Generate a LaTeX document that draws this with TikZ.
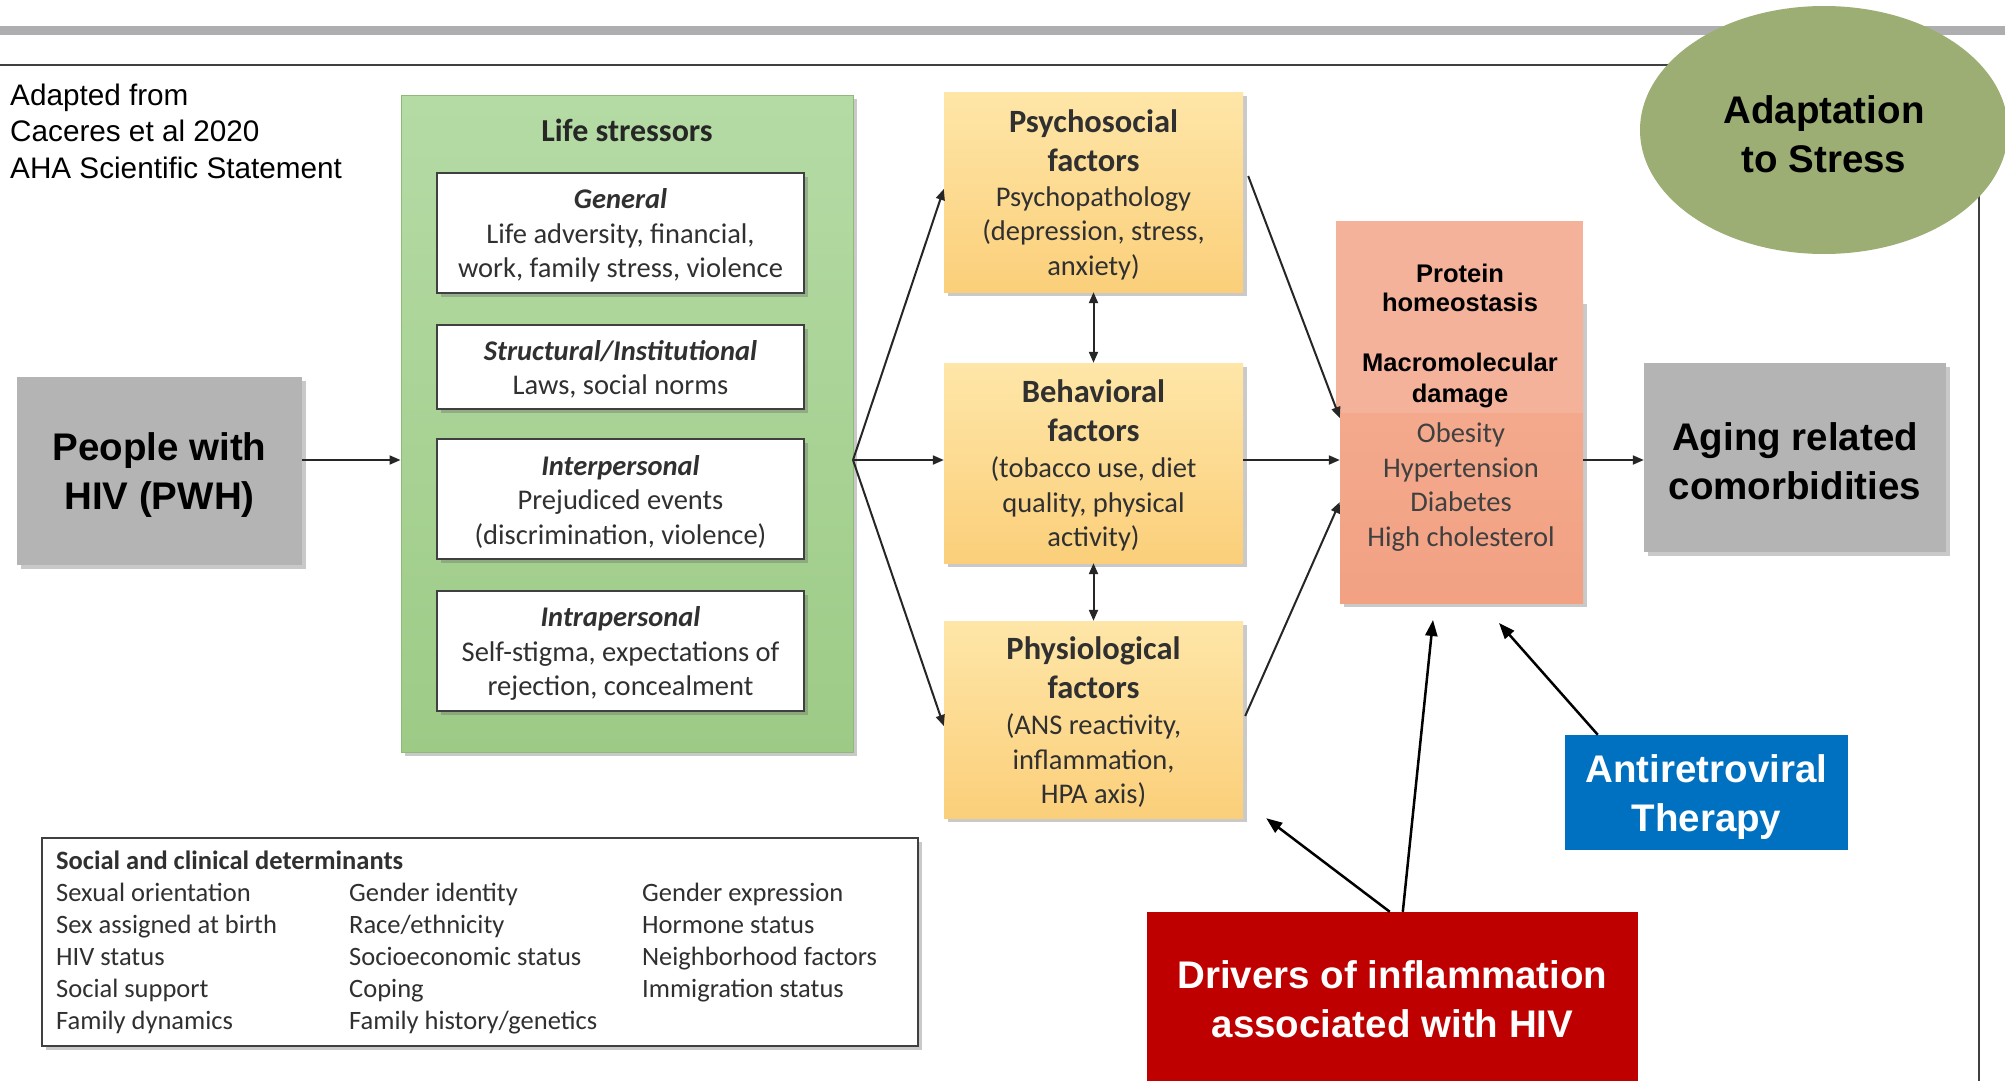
\documentclass[tikz,border=0pt]{standalone}
\usepackage{fontspec}
\setmainfont{Liberation Sans}
\newfontfamily\calib{Carlito}
\usetikzlibrary{shadows,arrows.meta,shapes.geometric}
\definecolor{bandc}{HTML}{AEAEB0}
\definecolor{framec}{HTML}{404040}
\definecolor{grayc}{HTML}{B4B4B4}
\definecolor{greent}{HTML}{B5DBA5}
\definecolor{greenb}{HTML}{9DCB86}
\definecolor{greenl}{HTML}{8DBA78}
\definecolor{yelt}{HTML}{FEE6A8}
\definecolor{yelb}{HTML}{FBCF7A}
\definecolor{pinkt}{HTML}{F5AE92}
\definecolor{pinkb}{HTML}{F2A183}
\definecolor{pinku}{HTML}{F4B29B}
\definecolor{olive}{HTML}{9CAE74}
\definecolor{bluec}{HTML}{0070C0}
\definecolor{redc}{HTML}{BE0000}
\definecolor{txt}{HTML}{303030}
\tikzset{
  shad/.style={drop shadow={shadow xshift=4pt,shadow yshift=-4pt,opacity=0.35,fill=black!60}},
  boldtxt/.style={align=center, inner sep=0pt, font=\bfseries\fontsize{38.5}{48.5}\selectfont},
  graybox/.style={fill=grayc, boldtxt},
  greenbox/.style={top color=greent, bottom color=greenb, draw=greenl, line width=1pt, shad},
  whitebox/.style={fill=white, draw=framec, line width=2pt, shad, minimum width=367pt, inner sep=0pt},
  wtext/.style={align=center, inner sep=0pt, text=txt, font=\calib\fontsize{28.5}{34.5}\selectfont},
  yelbox/.style={top color=yelt, bottom color=yelb, shad, minimum width=299pt, inner sep=0pt},
  ytitle/.style={align=center, inner sep=0pt, text=txt, font=\calib\bfseries\fontsize{32.5}{39}\selectfont},
  ybody/.style={align=center, inner sep=0pt, text=txt, font=\calib\fontsize{28.5}{34.5}\selectfont},
  arr/.style={-{Triangle[length=11pt,width=9pt]}, line width=2pt, draw=black!85},
  darr/.style={{Triangle[length=11pt,width=9pt]}-{Triangle[length=11pt,width=9pt]}, line width=2pt, draw=black!85},
  bigarr/.style={-{Triangle[length=16pt,width=12pt]}, line width=2.5pt, draw=black}
}
\begin{document}
\begin{tikzpicture}[x=1pt,y=-1pt]
\useasboundingbox (0,0) rectangle (2005,1081);
\fill[white] (0,0) rectangle (2005,1081);
% top band and frame
\fill[bandc] (0,26) rectangle (2005,35);
\draw[framec, line width=2pt] (0,65) -- (1979,65) -- (1979,1081);

% source note
\node[anchor=west, align=left, inner sep=0pt, font=\fontsize{29.7}{36.5}\selectfont] (note) at (10,131)
  {Adapted from\\Caceres et al 2020\\AHA Scientific Statement};

% adaptation ellipse
\node[ellipse, fill=olive, minimum width=368pt, minimum height=248pt, inner sep=0pt] (adapt) at (1824,130) {};
\node[boldtxt] (adaptt) at (1824,134) {Adaptation\\to Stress};

% PWH
\node[fill=grayc, shad, minimum width=285pt, minimum height=188pt, inner sep=0pt] (pwh) at (159.5,471) {};
\node[boldtxt] (pwht) at (159.5,475) {People with\\HIV (PWH)};

% green life stressors
\node[greenbox, minimum width=452pt, minimum height=657pt, inner sep=0pt] (green) at (627,423.5) {};
\node[inner sep=0pt, text=black!85, font=\calib\bfseries\fontsize{32}{38}\selectfont] (lstit) at (627,130) {Life stressors};
\node[whitebox, minimum height=120pt] (gen) at (620.5,233) {};
\node[wtext] (gent) at (620.5,235.5) {{\bfseries\itshape General}\\Life adversity, financial,\\work, family stress, violence};
\node[whitebox, minimum height=84pt] (struc) at (620.5,367) {};
\node[wtext] (struct) at (620.5,369.5) {{\bfseries\itshape Structural/Institutional}\\Laws, social norms};
\node[whitebox, minimum height=120pt] (inter) at (620.5,499) {};
\node[wtext] (intert) at (620.5,501.5) {{\bfseries\itshape Interpersonal}\\Prejudiced events\\(discrimination, violence)};
\node[whitebox, minimum height=120pt] (intra) at (620.5,651) {};
\node[wtext] (intrat) at (620.5,653.5) {{\bfseries\itshape Intrapersonal}\\Self-stigma, expectations of\\rejection, concealment};

% yellow factor boxes
\node[yelbox, minimum height=200pt] (psy) at (1093.5,192) {};
\node[ytitle] (psyt) at (1093.5,141) {Psychosocial\\factors};
\node[ybody] (psyb) at (1093.5,233) {Psychopathology\\(depression, stress,\\anxiety)};
\node[yelbox, minimum height=200pt] (beh) at (1093.5,463) {};
\node[ytitle] (beht) at (1093.5,411) {Behavioral\\factors};
\node[ybody] (behb) at (1093.5,504) {(tobacco use, diet\\quality, physical\\activity)};
\node[yelbox, minimum height=197pt] (phy) at (1093.5,719.5) {};
\node[ytitle] (phyt) at (1093.5,668) {Physiological\\factors};
\node[ybody] (phyb) at (1093.5,761) {(ANS reactivity,\\inflammation,\\HPA axis)};

% pink boxes
\node[top color=pinkt, bottom color=pinkb, shad, minimum width=243pt, minimum height=303pt, inner sep=0pt] (pinkl) at (1461.5,451.5) {};
\node[fill=pinku, minimum width=247pt, minimum height=192pt, inner sep=0pt] (pinkup) at (1459.5,317) {};
\node[align=center, inner sep=0pt, font=\bfseries\fontsize{25.5}{29.5}\selectfont] (prot) at (1460,288) {Protein\\homeostasis};
\node[align=center, inner sep=0pt, font=\bfseries\fontsize{25.5}{31}\selectfont] (macro) at (1460,380) {Macromolecular\\damage};
\node[ybody, text=black!75] (dis) at (1461,487) {Obesity\\Hypertension\\Diabetes\\High cholesterol};

% aging box
\node[fill=grayc, shad, minimum width=302pt, minimum height=189pt, inner sep=0pt] (aging) at (1795,457.5) {};
\node[boldtxt] (agingt) at (1795,461) {Aging related\\comorbidities};

% ART and drivers
\node[fill=bluec, minimum width=283pt, minimum height=115pt, inner sep=0pt] (art) at (1706.5,792.5) {};
\node[boldtxt, text=white] (artt) at (1706.5,797) {Antiretroviral\\Therapy};
\node[fill=redc, minimum width=491pt, minimum height=176pt, inner sep=0pt] (drv) at (1392.5,1000) {};
\node[boldtxt, text=white] (drvt) at (1392.5,999) {Drivers of inflammation\\associated with HIV};

% social and clinical determinants
\node[fill=white, draw=framec, line width=2pt, shad, minimum width=876pt, minimum height=208pt, inner sep=0pt] (soc) at (480,942) {};
\node[anchor=west, inner sep=0pt, text=txt, font=\calib\fontsize{26.5}{32}\selectfont] (soct) at (56,943.5) {%
\begin{tabular}{@{}p{281pt}p{281pt}l@{}}
\multicolumn{3}{@{}l}{\bfseries Social and clinical determinants}\\
Sexual orientation & Gender identity & Gender expression\\
Sex assigned at birth & Race/ethnicity & Hormone status\\
HIV status & Socioeconomic status & Neighborhood factors\\
Social support & Coping & Immigration status\\
Family dynamics & Family history/genetics & \\
\end{tabular}};

% connectors
\coordinate (hub) at (853,460);
\draw[arr] (pwh.east |- hub) -- (green.west |- hub);
\draw[arr] (hub) -- (psy.west |- 0,189);
\draw[arr] (hub) -- (beh.west |- hub);
\draw[arr] (hub) -- (phy.west |- 0,726);
\draw[darr] (psy.south) -- (beh.north);
\draw[darr] (beh.south) -- (phy.north);
\draw[arr] ([xshift=5pt]psy.east |- 0,176) -- (pinkl.west |- 0,418);
\draw[arr] (beh.east |- hub) -- (pinkl.west |- hub);
\draw[arr] ([xshift=2pt]phy.east |- 0,716) -- (pinkl.west |- 0,502);
\draw[arr] (pinkl.east |- hub) -- (aging.west |- hub);
\draw[bigarr] ([xshift=33pt]art.north west) -- (1499,623);
\draw[bigarr] ([xshift=243pt]drv.north west) -- ([xshift=23pt]phy.south east);
\draw[bigarr] ([xshift=256pt]drv.north west) -- (1433,620);
\end{tikzpicture}
\end{document}
